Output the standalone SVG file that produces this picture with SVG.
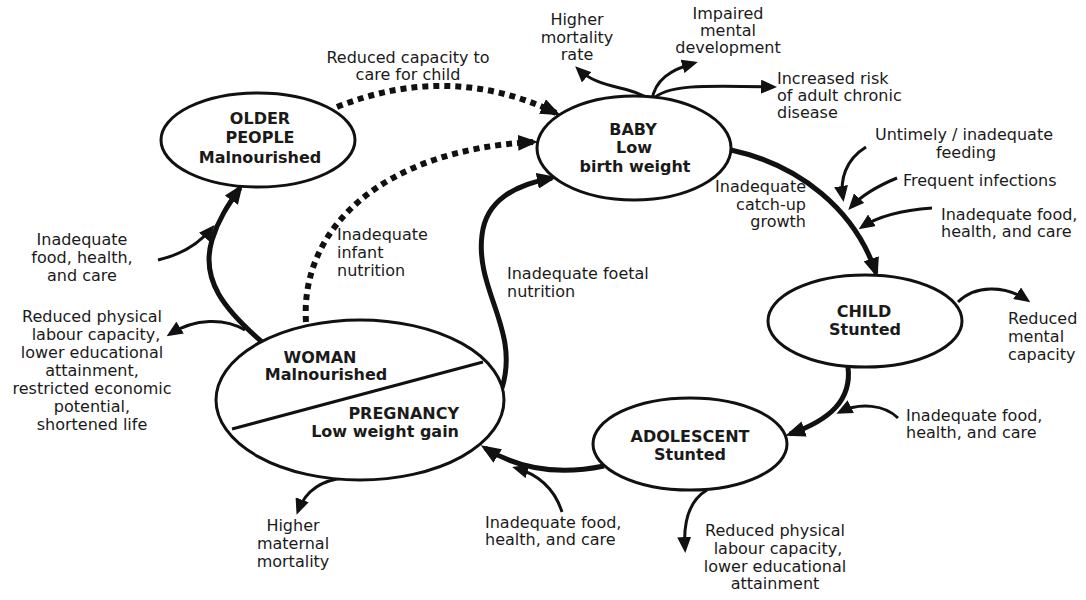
<svg xmlns="http://www.w3.org/2000/svg" width="1086" height="600" viewBox="0 0 1086 600">
<style>
.n{fill:#fff;stroke:#111;stroke-width:3}
.t{font-family:"DejaVu Sans",Verdana,sans-serif;font-size:16px;fill:#1a1a1a}
.b{font-weight:bold}
.m{text-anchor:middle}
.e{text-anchor:end}
.c{fill:none;stroke:#111}
.k{stroke-width:5;marker-end:url(#ahl)}
.s{stroke-width:3;marker-end:url(#ah)}
.d{stroke-width:6;stroke-dasharray:6 5;marker-end:url(#ahl)}
</style>
<defs>
<marker id="ah" markerUnits="userSpaceOnUse" viewBox="0 0 16 14" markerWidth="16" markerHeight="14" refX="12" refY="7" orient="auto"><path d="M0,0 L16,7 L0,14 z" fill="#111"/></marker>
<marker id="ahl" markerUnits="userSpaceOnUse" viewBox="0 0 20 16" markerWidth="20" markerHeight="16" refX="15" refY="8" orient="auto"><path d="M0,0 L20,8 L0,16 z" fill="#111"/></marker>
</defs>
<rect width="1086" height="600" fill="#fff"/>

<g id="connectors">
<path class="c d" d="M337,107 Q450,62 556,113"/>
<path class="c d" d="M306,322 C300,230 380,150 533,142"/>
<path class="c k" d="M502,388 C520,330 475,290 482,235 C486,200 515,185 552,178"/>
<path class="c k" d="M262,342 C225,310 200,280 212,240 C218,220 228,205 240,188"/>
<path class="c s" d="M158,260 C180,255 198,245 212,228"/>
<path class="c s" d="M245,330 C225,318 195,318 170,334"/>
<path class="c k" d="M731,150 C800,165 855,210 876,273"/>
<path class="c s" d="M866,147 C845,160 840,180 843,198"/>
<path class="c s" d="M897,178 C880,185 862,195 851,207"/>
<path class="c s" d="M932,208 C905,210 880,215 862,227"/>
<path class="c k" d="M848,367 C852,400 830,420 790,434"/>
<path class="c s" d="M898,418 C885,405 860,402 840,412"/>
<path class="c k" d="M604,466 C560,475 520,470 485,448"/>
<path class="c s" d="M562,512 C555,490 540,475 516,468"/>
<path class="c s" d="M345,478 C320,480 305,492 298,511"/>
<path class="c s" d="M707,490 C690,500 683,520 685,549"/>
<path class="c s" d="M958,302 C975,285 1005,285 1027,300"/>
<path class="c s" d="M650,100 C630,85 600,90 578,69"/>
<path class="c s" d="M652,100 C655,80 670,70 694,63"/>
<path class="c s" d="M652,100 C665,85 700,85 773,87"/>
</g>

<g id="older">
<ellipse class="n" cx="258" cy="140" rx="97" ry="47"/>
<text class="t b m" x="260" y="124">OLDER</text>
<text class="t b m" x="260" y="143">PEOPLE</text>
<text class="t b m" x="260" y="163">Malnourished</text>
</g>
<g id="baby">
<ellipse class="n" cx="634" cy="148" rx="97" ry="52"/>
<text class="t b m" x="633" y="135">BABY</text>
<text class="t b m" x="634" y="153">Low</text>
<text class="t b m" x="635" y="172">birth weight</text>
</g>
<g id="child">
<ellipse class="n" cx="865" cy="321" rx="97" ry="46"/>
<text class="t b m" x="864" y="317">CHILD</text>
<text class="t b m" x="865" y="335">Stunted</text>
</g>
<g id="adolescent">
<ellipse class="n" cx="690" cy="444" rx="97" ry="46"/>
<text class="t b m" x="690" y="442">ADOLESCENT</text>
<text class="t b m" x="690" y="460">Stunted</text>
</g>
<g id="woman">
<ellipse class="n" cx="360" cy="400" rx="144" ry="80"/>
<line x1="232" y1="429" x2="483" y2="362" stroke="#111" stroke-width="3"/>
<text class="t b m" x="320" y="363">WOMAN</text>
<text class="t b m" x="326" y="380">Malnourished</text>
<text class="t b e" x="459" y="419">PREGNANCY</text>
<text class="t b e" x="459" y="437">Low weight gain</text>
</g>

<g id="labels" class="t">
<text class="t m" x="408" y="63">Reduced capacity to</text>
<text class="t m" x="408" y="80">care for child</text>
<text class="t m" x="577" y="25">Higher</text>
<text class="t m" x="577" y="43">mortality</text>
<text class="t m" x="577" y="60">rate</text>
<text class="t m" x="728" y="19">Impaired</text>
<text class="t m" x="728" y="36">mental</text>
<text class="t m" x="728" y="53">development</text>
<text class="t" x="777" y="84">Increased risk</text>
<text class="t" x="777" y="101">of adult chronic</text>
<text class="t" x="777" y="118">disease</text>
<text class="t m" x="964" y="140">Untimely / inadequate</text>
<text class="t m" x="966" y="158">feeding</text>
<text class="t" x="903" y="186">Frequent infections</text>
<text class="t" x="941" y="220">Inadequate food,</text>
<text class="t" x="941" y="237">health, and care</text>
<text class="t e" x="806" y="192">Inadequate</text>
<text class="t e" x="806" y="210">catch-up</text>
<text class="t e" x="806" y="227">growth</text>
<text class="t" x="1008" y="324">Reduced</text>
<text class="t" x="1008" y="342">mental</text>
<text class="t" x="1008" y="360">capacity</text>
<text class="t" x="906" y="421">Inadequate food,</text>
<text class="t" x="906" y="438">health, and care</text>
<text class="t m" x="775" y="536">Reduced physical</text>
<text class="t m" x="778" y="554">labour capacity,</text>
<text class="t m" x="775" y="572">lower educational</text>
<text class="t m" x="775" y="589">attainment</text>
<text class="t" x="485" y="528">Inadequate food,</text>
<text class="t" x="485" y="545">health, and care</text>
<text class="t m" x="293" y="531">Higher</text>
<text class="t m" x="293" y="549">maternal</text>
<text class="t m" x="293" y="567">mortality</text>
<text class="t m" x="82" y="245">Inadequate</text>
<text class="t m" x="82" y="263">food, health,</text>
<text class="t m" x="82" y="281">and care</text>
<text class="t m" x="92" y="322">Reduced physical</text>
<text class="t m" x="96" y="340">labour capacity,</text>
<text class="t m" x="92" y="358">lower educational</text>
<text class="t m" x="92" y="376">attainment,</text>
<text class="t m" x="92" y="394">restricted economic</text>
<text class="t m" x="92" y="412">potential,</text>
<text class="t m" x="92" y="430">shortened life</text>
<text class="t" x="337" y="240">Inadequate</text>
<text class="t" x="337" y="258">infant</text>
<text class="t" x="337" y="276">nutrition</text>
<text class="t" x="507" y="279">Inadequate foetal</text>
<text class="t" x="507" y="297">nutrition</text>
</g>
</svg>
